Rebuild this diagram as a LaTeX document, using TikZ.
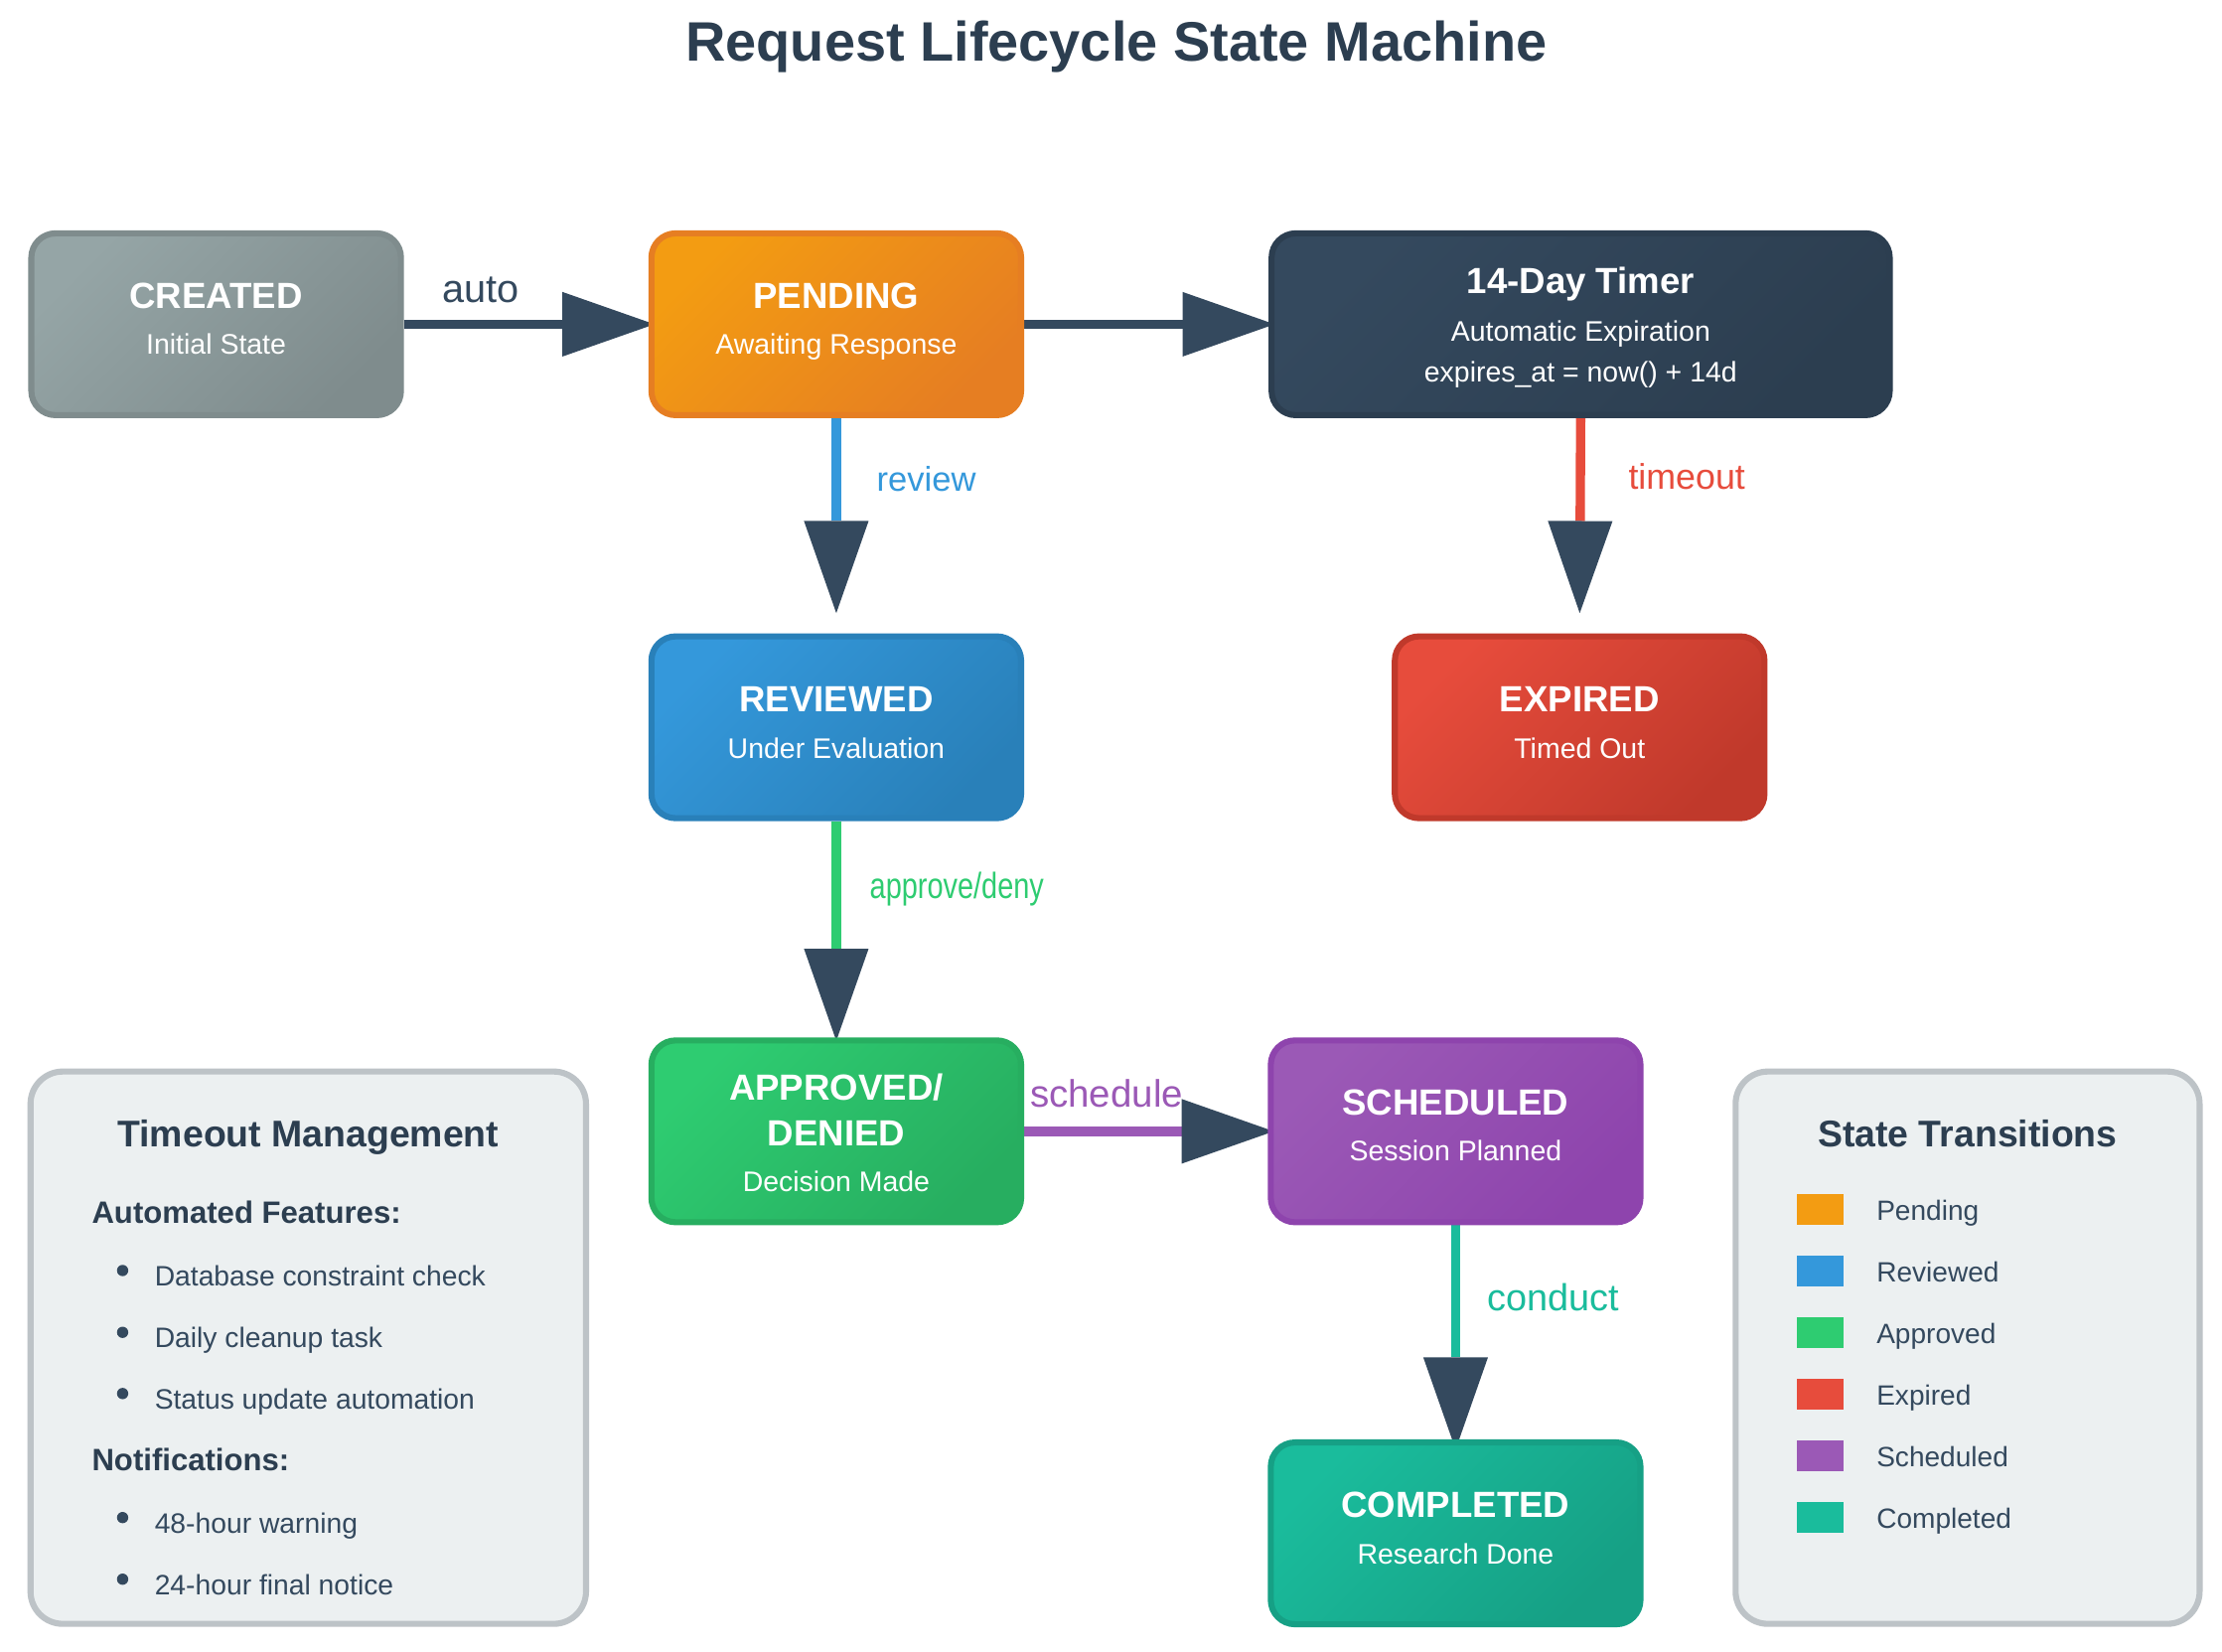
\documentclass[tikz,border=0pt]{standalone}
\usepackage{fontspec}
\usepackage{graphicx}
\setmainfont{Liberation Sans}
\usetikzlibrary{arrows.meta,backgrounds,calc}
\newcommand\myfs[1]{\fontsize{#1}{#1}\selectfont}
\definecolor{ink}{HTML}{2C3E50}
\definecolor{inkb}{HTML}{34495E}
\definecolor{cgray}{HTML}{95A5A6}\definecolor{cgrayd}{HTML}{7F8C8D}
\definecolor{corange}{HTML}{F39C12}\definecolor{corangec}{HTML}{E67E22}
\definecolor{cblue}{HTML}{3498DB}\definecolor{cblued}{HTML}{2980B9}
\definecolor{cred}{HTML}{E74C3C}\definecolor{credd}{HTML}{C0392B}
\definecolor{cgreen}{HTML}{2ECC71}\definecolor{cgreend}{HTML}{27AE60}
\definecolor{cpurple}{HTML}{9B59B6}\definecolor{cpurpled}{HTML}{8E44AD}
\definecolor{cteal}{HTML}{1ABC9C}\definecolor{ctealg}{HTML}{16A085}
\definecolor{panelfill}{HTML}{ECF0F1}\definecolor{panelline}{HTML}{BDC3C7}
\begin{document}
\begin{tikzpicture}[x=1pt,y=-1pt,
  state/.style={draw, line width=3pt, rounded corners=12pt, minimum width=183pt,
    minimum height=90pt, inner sep=0pt},
  sfill/.style 2 args={top color=#1, bottom color=#2, draw=#2, shading angle=45},
  ttl/.style={text=white, font=\myfs{18}\bfseries, anchor=base, inner sep=0pt},
  sub/.style={text=white, font=\myfs{14}, anchor=base, inner sep=0pt},
  elbl/.style={anchor=base, inner sep=0pt},
  conn/.style={line width=4.6pt, -{Triangle[length=45.6pt,width=32pt,color=inkb,fill=inkb,line width=0pt]}},
  panel/.style={draw=panelline, fill=panelfill, line width=3pt, rounded corners=16pt, inner sep=0pt},
  ptitle/.style={text=ink, font=\myfs{18.4}\bfseries, anchor=base, inner sep=0pt},
  phead/.style={text=ink, font=\myfs{15.3}\bfseries, anchor=base west, inner sep=0pt},
  pitem/.style={text=inkb, font=\myfs{13.9}, anchor=base west, inner sep=0pt},
  litem/.style={text=inkb, font=\myfs{13.8}, anchor=base west, inner sep=0pt},
  dot/.style={fill=inkb}
]
\useasboundingbox (0,0) rectangle (1100,817.3);

% title
\node[text=ink, font=\myfs{27.5}\bfseries, anchor=base, inner sep=0pt] (title) at (552.6,30.3) {Request Lifecycle State Machine};

% state boxes
\node[state, sfill={cgray}{cgrayd}] (created) at (107,160.5) {};
\node[state, sfill={corange}{corangec}] (pending) at (414,160.5) {};
\node[state, minimum width=306pt, sfill={inkb}{ink}] (timer) at (782.5,160.5) {};
\node[state, sfill={cblue}{cblued}] (reviewed) at (414,360) {};
\node[state, sfill={cred}{credd}] (expired) at (782,360) {};
\node[state, sfill={cgreen}{cgreend}] (approved) at (414,560) {};
\node[state, sfill={cpurple}{cpurpled}] (scheduled) at (720.6,560) {};
\node[state, sfill={cteal}{ctealg}] (completed) at (720.6,759) {};

% box texts
\node[ttl] (createdT) at ($(created.center)+(0,-7.7)$) {CREATED};
\node[sub] (createdS) at ($(created.center)+(0,15)$) {Initial State};
\node[ttl] (pendingT) at ($(pending.center)+(0,-7.7)$) {PENDING};
\node[sub] (pendingS) at ($(pending.center)+(0,15)$) {Awaiting Response};
\node[ttl] (timerT) at ($(timer.center)+(0,-15.2)$) {14-Day Timer};
\node[sub] (timerS) at ($(timer.center)+(0,8.2)$) {Automatic Expiration};
\node[sub] (timerE) at ($(timer.center)+(0,28.8)$) {expires\_at = now() + 14d};
\node[ttl] (reviewedT) at ($(reviewed.center)+(0,-7.7)$) {REVIEWED};
\node[sub] (reviewedS) at ($(reviewed.center)+(0,15.2)$) {Under Evaluation};
\node[ttl] (expiredT) at ($(expired.center)+(0,-7.7)$) {EXPIRED};
\node[sub] (expiredS) at ($(expired.center)+(0,15.2)$) {Timed Out};
\node[ttl] (approvedT) at ($(approved.center)+(0,-15.4)$) {APPROVED/};
\node[ttl] (approvedT2) at ($(approved.center)+(0,7.2)$) {DENIED};
\node[sub] (approvedS) at ($(approved.center)+(0,29.9)$) {Decision Made};
\node[ttl] (scheduledT) at ($(scheduled.center)+(0,-8.2)$) {SCHEDULED};
\node[sub] (scheduledS) at ($(scheduled.center)+(0,14.5)$) {Session Planned};
\node[ttl] (completedT) at ($(completed.center)+(0,-7.7)$) {COMPLETED};
\node[sub] (completedS) at ($(completed.center)+(0,15.2)$) {Research Done};

% edge labels
\node[elbl, text=inkb, font=\myfs{19.5}] (lauto) at (238,149.5) {auto};
\node[elbl, text=cblue, font=\myfs{17}, anchor=base west] (lrev) at (433.8,243) {review};
\node[elbl, text=cred, font=\myfs{17.6}, anchor=base west] (ltime) at (806,242.2) {timeout};
\node[elbl, text=cgreen, font=\myfs{18}, anchor=base west] (lapp) at (430.4,445) {\scalebox{0.79}[1]{approve/deny}};
\node[elbl, text=cpurple, font=\myfs{18.9}] (lsch) at (547.8,548.2) {schedule};
\node[elbl, text=cteal, font=\myfs{18.6}, anchor=base west] (lcon) at (736.2,649) {conduct};

% connectors behind boxes
\begin{pgfonlayer}{background}
\fill[white] (0,0) rectangle (1100,817.3);
\draw[conn, draw=inkb, shorten >=-3pt] (created.east) -- (pending.west);
\draw[conn, draw=inkb, shorten >=-3pt] (pending.east) -- (timer.west);
\draw[conn, draw=cblue, shorten >=10pt] (pending.south) -- (reviewed.north);
\draw[conn, draw=cred, shorten >=10pt] (timer.south) -- (expired.north);
\draw[conn, draw=cgreen, shorten >=-1.7pt] (reviewed.south) -- (approved.north);
\draw[conn, draw=cpurple, shorten >=-3pt] (approved.east) -- (scheduled.west);
\draw[conn, draw=cteal, shorten >=-5pt] (scheduled.south) -- (completed.north);
\end{pgfonlayer}

% left panel
\node[panel, minimum width=275pt, minimum height=273.4pt] (tpanel) at (152.6,667.1) {};
\node[ptitle] (tptitle) at (152.6,567.8) {Timeout Management};
\node[phead] (auth) at (45.3,605.4) {Automated Features:};
\fill[dot] (60.7,628.9) circle (2.8);
\node[pitem] (it1) at (76.4,636.5) {Database constraint check};
\fill[dot] (60.7,659.5) circle (2.8);
\node[pitem] (it2) at (76.4,667.1) {Daily cleanup task};
\fill[dot] (60.7,689.8) circle (2.8);
\node[pitem] (it3) at (76.4,697.4) {Status update automation};
\node[phead] (noth) at (45.3,727.8) {Notifications:};
\fill[dot] (60.7,751.2) circle (2.8);
\node[pitem] (it4) at (76.4,758.8) {48-hour warning};
\fill[dot] (60.7,781.7) circle (2.8);
\node[pitem] (it5) at (76.4,789.3) {24-hour final notice};

% right panel (legend)
\node[panel, minimum width=229.7pt, minimum height=273.4pt] (lpanel) at (974.05,667.1) {};
\node[ptitle] (lptitle) at (974.05,567.8) {State Transitions};
\foreach \c/\t [count=\i from 0] in {corange/Pending,cblue/Reviewed,cgreen/Approved,cred/Expired,cpurple/Scheduled,cteal/Completed}{
  \fill[\c] (889.7,591+\i*30.5) rectangle (912.7,606.2+\i*30.5);
  \node[litem] (leg\i) at (928.8,603.9+\i*30.5) {\t};
}
\end{tikzpicture}
\end{document}
